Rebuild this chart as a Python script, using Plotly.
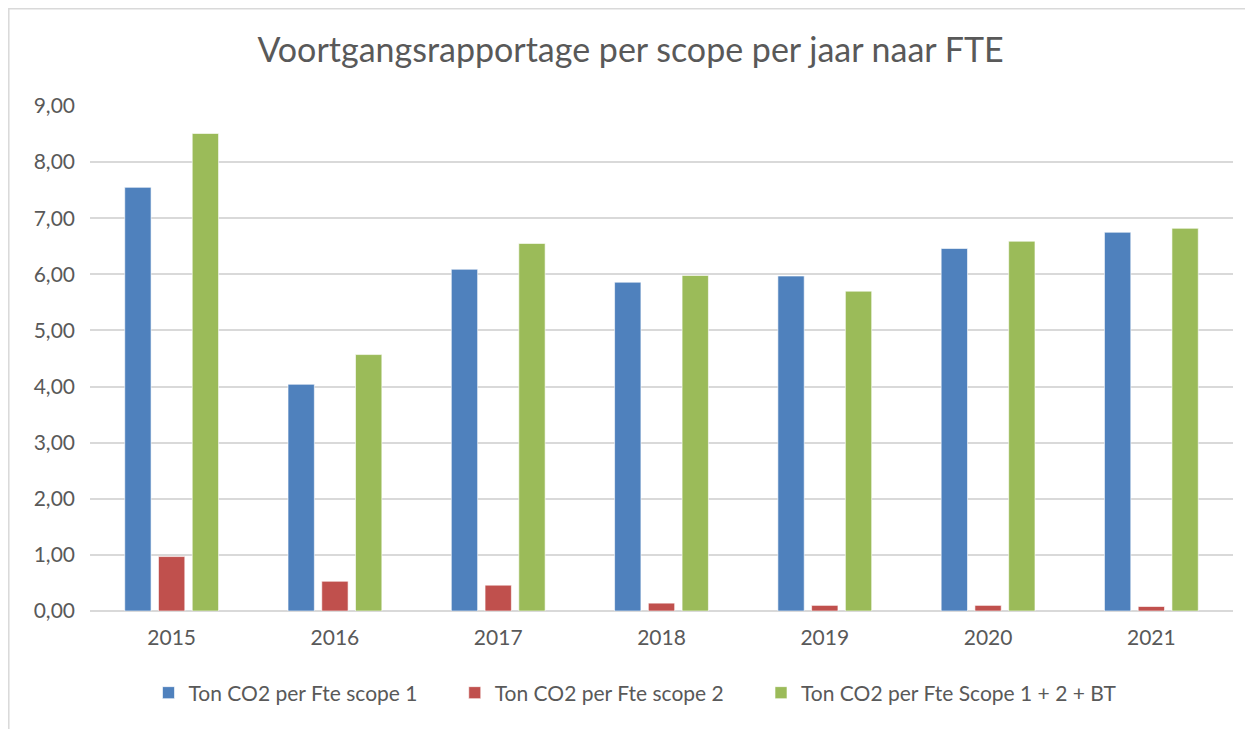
import plotly.graph_objects as go

years = ["2015", "2016", "2017", "2018", "2019", "2020", "2021"]
scope1 = [7.55, 4.04, 6.09, 5.86, 5.97, 6.46, 6.75]
scope2 = [0.97, 0.53, 0.46, 0.14, 0.10, 0.10, 0.08]
scope_total = [8.51, 4.57, 6.55, 5.98, 5.70, 6.59, 6.82]

names = ["Ton CO2 per Fte scope 1", "Ton CO2 per Fte scope 2", "Ton CO2 per Fte Scope 1 + 2 + BT"]
colors = ["#4F81BD", "#C0504D", "#9BBB59"]
tick_vals = [0, 1, 2, 3, 4, 5, 6, 7, 8, 9]

pad = "\u00a0" * 6
fig = go.Figure()
for i, (name, vals, col) in enumerate(zip(names, [scope1, scope2, scope_total], colors)):
    label = name + (pad if i < len(names) - 1 else "")
    fig.add_trace(go.Bar(x=years, y=vals, name=label,
                         marker=dict(color=col, line=dict(color="rgba(255,255,255,0.6)", width=1))))

font_family = "Lato, 'Open Sans', sans-serif"
W, H = 1245, 721
L, R, T, B = 82, 20, 98, 118
pw, ph = W - L - R, H - T - B

def px_x(sx):
    return (sx - 8 - L) / pw

def px_y(sy):
    return (H - B - (sy - 8)) / ph

fig.update_layout(
    width=W, height=H,
    paper_bgcolor="white", plot_bgcolor="white",
    separators=",.",
    font=dict(family=font_family, color="#595959", size=21),
    title=dict(text="Voortgangsrapportage per scope per jaar naar FTE",
               x=0.5, xanchor="center", y=1 - 42 / H, yanchor="middle",
               font=dict(size=34, color="#595959", family=font_family)),
    margin=dict(l=L, r=R, t=T, b=B),
    barmode="group", bargap=0.38, bargroupgap=0.22,
    xaxis=dict(showgrid=False, showline=False, ticks="", tickfont=dict(size=21, color="#595959"),
               ticklabelstandoff=12),
    yaxis=dict(range=[0, 9], tickvals=tick_vals, tickformat=".2f",
               showgrid=True, gridcolor="#D9D9D9", gridwidth=1.5,
               zeroline=True, zerolinecolor="#D9D9D9", zerolinewidth=1.5,
               showline=False, ticks="", tickfont=dict(size=21, color="#595959"), ticklabelstandoff=14),
    legend=dict(orientation="h", x=0.5 - 26 / pw, xanchor="center", y=px_y(693), yanchor="middle",
                font=dict(size=21, color="#595959"), itemwidth=30, traceorder="normal"),
    shapes=[dict(type="rect", xref="paper", yref="paper",
                 x0=px_x(8.8), x1=px_x(1262),
                 y0=px_y(740), y1=px_y(8.8),
                 line=dict(color="#D9D9D9", width=1.5), fillcolor="rgba(0,0,0,0)", layer="below")],
)

fig.write_html("out.html")
